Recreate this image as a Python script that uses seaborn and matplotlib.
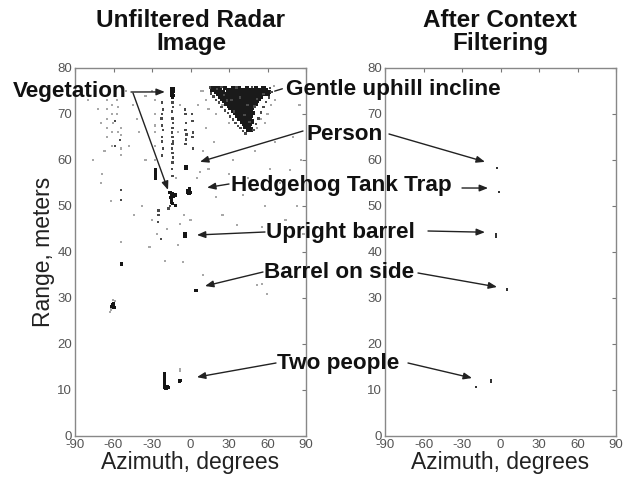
import matplotlib
matplotlib.use("Agg")
import matplotlib.pyplot as plt
import seaborn as sns
import pandas as pd

sns.set_style("white")
plt.rcParams['font.family'] = ['Liberation Sans', 'DejaVu Sans']
plt.rcParams['axes.unicode_minus'] = False

# ---------------- data (azimuth deg, range m) ----------------
# Gentle uphill incline (dense core): range -> azimuths
incline_core = {
    75.6: [18, 21, 27, 33, 38, 44, 51, 57],
    75.2: [17, 19.5, 23, 29, 31.5, 35, 40, 42.5, 47, 49.5, 53, 59],
    74.8: [20, 22.5, 25, 30, 33.5, 36.5, 39, 41.5, 45, 48, 52, 55, 58.5, 61],
    74.3: [21.5, 24, 27.5, 31, 34.5, 37.5, 40, 43, 46, 50, 53.5, 56.5, 60],
    73.8: [23, 26, 29, 32.5, 35.5, 38.5, 41, 44, 47, 49, 51.5, 55],
    73.3: [25, 28, 31, 34, 37, 39.5, 42.5, 45, 48, 50.5, 53],
    72.8: [26.5, 30, 33, 35.5, 38, 41, 43.5, 46.5, 49.5, 52],
    72.3: [28, 31.5, 34.5, 37, 40, 42.5, 45, 47.5, 51],
    71.8: [30, 33, 36, 39, 41.5, 44, 46.5, 49.5],
    71.3: [31, 34.5, 37.5, 40.5, 43, 45.5, 48],
    70.8: [33, 36, 39, 42, 44.5, 47],
    70.2: [34.5, 37.5, 40.5, 43, 45.5, 48.5],
    69.6: [36.5, 39, 42, 44, 47],
    69.0: [38, 41, 43.5, 46],
    68.4: [40, 42.5, 45, 47.5],
    67.8: [41.5, 44, 46.5],
    67.2: [43, 45.5],
    66.6: [45, 47],
}
# incline fringe (lighter)
incline_fringe = [
    (16, 74.5), (18, 73.8), (20, 73), (22, 72.5), (24, 71.5), (27, 70.8), (29, 70.2),
    (31, 69.5), (33, 68.8), (35, 68), (37, 67.4), (39, 66.9), (41, 66.3), (43, 65.8),
    (49, 66.5), (51, 67.8), (53, 69), (55, 70.3), (57, 71.5), (59, 72.6), (61, 73.6),
    (63, 74.8), (62, 75.6), (15, 75.8), (24, 75.9), (36, 75.8), (48, 75.9),
    (20.5, 75.4), (26, 74.1), (44.5, 71.9), (38.5, 73.6), (28.5, 72.9), (52, 73.2),
    (46, 68.2), (34, 70.5), (32, 73), (57, 74.4), (42, 69.8), (50, 71.6),
]

# dark returns (vegetation, objects, people)
dark_pts = [
    # vegetation blob at top
    (-15, 75.5), (-14, 75.5), (-13, 75.5), (-15, 75), (-14, 75), (-13, 75),
    (-15, 74.5), (-14, 74.5), (-13.5, 74), (-14.5, 74), (-14, 73.5),
    # vegetation cluster near 52 m
    (-16, 53), (-15, 52.5), (-14, 52.8), (-15.5, 51.8), (-14.5, 51.5), (-13.5, 52),
    (-15, 50.8), (-14, 50.5), (-12, 52.4), (-12, 50.2),
    (-27.6, 58), (-27.6, 57.3), (-27.6, 56.6), (-27.6, 55.9),
    # person
    (-3.5, 58.5), (-3.5, 58.2),
    # hedgehog
    (-2, 53.3), (-1, 53.3), (0, 53), (-1.5, 52.8), (-0.5, 52.7), (-1, 53.8), (-2.5, 53),
    # upright barrel
    (-4.3, 44), (-4.3, 43.7), (-4.3, 43.4), (-4, 43.7), (-4.6, 43.7),
    # barrel on side
    (4.3, 31.6), (4.6, 31.7),
    # cluster at -60 deg
    (-61, 28.5), (-60, 28.3), (-59.5, 28), (-60.5, 28), (-61.5, 28.2), (-60, 28.8),
    (-54, 37.2), (-54, 37.5),
    # two people
    (-20.6, 13.5), (-20.6, 13), (-20.6, 12.5), (-20.6, 12), (-20.6, 11.5), (-20.6, 11),
    (-20.5, 10.6), (-19.5, 10.4), (-18.5, 10.4), (-17.5, 10.5), (-19, 10.8), (-18, 10.7),
    (-8.2, 12), (-7.6, 12), (-8.6, 11.8),
]

# medium returns (vegetation streaks)
mid_pts = [
    (-14, 72.5), (-13.5, 71.5), (-14.5, 70.5), (-14, 69), (-13.5, 68), (-14, 67),
    (-14.5, 66), (-14, 65), (-13.5, 64), (-14, 63.5), (-14.5, 62.5), (-14, 61.5),
    (-13.5, 60.5), (-14, 59.5), (-14.5, 58), (-14, 56.5),
    (-22, 72.5), (-21.5, 71), (-22, 70), (-22.5, 69), (-22, 67.5), (-21.5, 66.5),
    (-22, 65), (-22, 64), (-21.5, 62.5), (-22, 61),
    (-4.5, 71), (-4, 70), (-3.5, 68), (-4, 66.5), (-3, 65.5), (-3.5, 64.5), (-4, 63.5),
    (1, 70), (1.5, 68.5), (2, 66), (1.5, 65), (2, 62.5),
    (-58.8, 68.5), (-58.8, 63), (-55, 64.3), (-54, 51.3), (-54, 53.5),
    (-16, 50), (-17, 49.5), (-25, 49), (-25, 48), (-25.5, 46.5), (-23, 42.8),
]

# faint scattered returns
faint_pts = [
    (-65, 73), (-65, 71), (-65, 69), (-65, 67), (-65, 65),
    (-61, 72), (-61, 70), (-60.5, 68), (-61, 66), (-61, 63),
    (-57, 73), (-56.5, 71.5), (-57, 70), (-56.5, 66),
    (-54, 67), (-54, 65.5), (-54, 62.5), (-54, 61), (-54, 42.2),
    (-74.4, 74), (-72, 71), (-70, 68),
    (-27.6, 73), (-27.6, 70), (-27.6, 67.5), (-27.6, 66), (-27.6, 63), (-27.6, 60),
    (12, 73), (14, 71), (60, 70), (63, 72), (66, 73), (58, 68), (20, 70), (10, 75),
    (65, 76), (52, 67), (55, 69), (30, 68), (25, 72),
    (-80, 73), (-76, 60), (-70, 55), (-45, 72), (-40, 66), (-35, 60), (-38, 50),
    (-30, 47), (-32, 41), (-10, 41.5), (-6, 37.8), (-5, 48), (-8, 46), (-11, 56),
    (5, 56), (7.4, 57.4), (10, 62), (12, 67), (14, 58), (18, 64), (20, 52), (25, 48),
    (30, 57), (33, 60), (36, 45.9), (41, 52.4), (45, 56), (50, 62), (55.7, 45.5),
    (58, 50), (62, 58), (66, 64), (70, 55), (74, 47), (77.6, 57.8), (80, 65),
    (85, 72), (86, 60), (83, 50), (88, 44),
    (-18, 45), (51.8, 32.8), (55.7, 33), (59.6, 30.9),
    (10, 35), (-20, 38), (-26, 44), (0, 47), (-10, 66), (-8, 72), (6, 72), (8, 75),
    (-30, 75), (-35, 74), (-50, 75), (-42, 69), (-48, 63), (-67, 62), (-69, 57),
    (-62, 51), (-44, 48), (-59, 29.3), (-62, 27.5), (-63, 27), (-60.5, 29.5),
    (-8.2, 14.5), (-8.2, 14.2),
]

# after context filtering
filtered_pts = [
    (-2.7, 58.3), (-1.1, 53), (-3.5, 43.8), (-3.5, 43.4), (5, 31.7), (5, 31.9),
    (-19, 10.7), (-7.4, 12.2), (-7.4, 11.8),
]

az_ticks = [-90, -60, -30, 0, 30, 60, 90]
rng_ticks = [0, 10, 20, 30, 40, 50, 60, 70, 80]

# ---------------- build tables ----------------
rows = []
for r, azs in incline_core.items():
    for a in azs:
        rows.append((a, r, "blob"))
rows += [(a, r, "mid") for a, r in incline_fringe]
rows += [(a, r, "dark") for a, r in dark_pts]
rows += [(a, r, "mid") for a, r in mid_pts]
rows += [(a, r, "faint") for a, r in faint_pts]
left_df = pd.DataFrame(rows, columns=["az", "rng", "tone"])
right_df = pd.DataFrame([(a, r, "small") for a, r in filtered_pts],
                        columns=["az", "rng", "tone"])

W, H = 626, 478
fig = plt.figure(figsize=(W / 100, H / 100), dpi=100)
axL = fig.add_axes([75 / W, 42 / H, 231 / W, 368 / H])
axR = fig.add_axes([385 / W, 42 / H, 231 / W, 368 / H])

pal = {"blob": "#1a1a1a", "dark": "#151515", "mid": "#4a4a4a",
       "faint": "#a8a8a8", "small": "#333333"}
sizes = {"blob": 10, "dark": 5, "mid": 3, "faint": 2.5, "small": 3}
sns.scatterplot(data=left_df, x="az", y="rng", hue="tone", size="tone",
                palette=pal, sizes=sizes, marker="s", linewidth=0,
                legend=False, ax=axL)
sns.scatterplot(data=right_df, x="az", y="rng", hue="tone", size="tone",
                palette=pal, sizes=sizes, marker="s", linewidth=0,
                legend=False, ax=axR)

for ax in (axL, axR):
    ax.set_xlim(-90, 90)
    ax.set_ylim(0, 80)
    ax.set_xticks(az_ticks)
    ax.set_yticks(rng_ticks)
    ax.tick_params(direction="in", length=3, width=0.8, colors="#777777",
                   labelcolor="#555555", labelsize=9.5, top=True, right=True,
                   pad=2)
    for sp in ax.spines.values():
        sp.set_color("#888888")
        sp.set_linewidth(1.0)
    ax.set_xlabel("Azimuth, degrees", fontsize=16.5, color="#222222", labelpad=0)
    ax.set_ylabel("")
axL.set_ylabel("Range, meters", fontsize=16.5, color="#222222", labelpad=2)

def fy(py):
    return H - py

# titles
fig.text(191 / W, fy(32) / H, "Unfiltered Radar\nImage", ha="center", va="center",
         fontsize=17.5, fontweight="bold", linespacing=0.95, color="#111111")
fig.text(500 / W, fy(32) / H, "After Context\nFiltering", ha="center", va="center",
         fontsize=17.5, fontweight="bold", linespacing=0.95, color="#111111")

labels = [
    ("Vegetation", 13, 91),
    ("Gentle uphill incline", 286, 90),
    ("Person", 306, 134),
    ("Hedgehog Tank Trap", 231, 185),
    ("Upright barrel", 266, 232),
    ("Barrel on side", 264, 273),
    ("Two people", 277, 363),
]
for txt, px, py in labels:
    fig.text(px / W, fy(py) / H, txt, ha="left", va="center", fontsize=16.2,
             fontweight="bold", color="#111111")

arrow_kw = dict(arrowstyle="-|>,head_length=0.5,head_width=0.2", color="#222222",
                lw=1.0, shrinkA=0, shrinkB=0)
arrows = [
    (axL, (131, 92), (-20, 74.8), arrow_kw),
    (axL, (133, 93), (-17.5, 53.5), arrow_kw),
    (axL, (285, 88), (63.5, 74.8), dict(arrowstyle="-", color="#222222", lw=1.0)),
    (axL, (303, 131), (7.4, 59.6), arrow_kw),
    (axL, (229, 184), (12.9, 54), arrow_kw),
    (axL, (265, 232), (5, 43.7), arrow_kw),
    (axL, (263, 272), (11.3, 32.6), arrow_kw),
    (axL, (276, 363), (5, 12.8), arrow_kw),
    (axR, (389, 134), (-12.1, 59.6), arrow_kw),
    (axR, (462, 188), (-9.7, 53.9), arrow_kw),
    (axR, (428, 231), (-12.1, 44.3), arrow_kw),
    (axR, (418, 273), (-2.7, 32.4), arrow_kw),
    (axR, (408, 363), (-22.2, 12.6), arrow_kw),
]
for ax, (tx, ty), xy, kw in arrows:
    ax.annotate("", xy=xy, xycoords="data", xytext=(tx, fy(ty)),
                textcoords="figure pixels", arrowprops=kw, annotation_clip=False)

fig.savefig("out.png", dpi=100)
